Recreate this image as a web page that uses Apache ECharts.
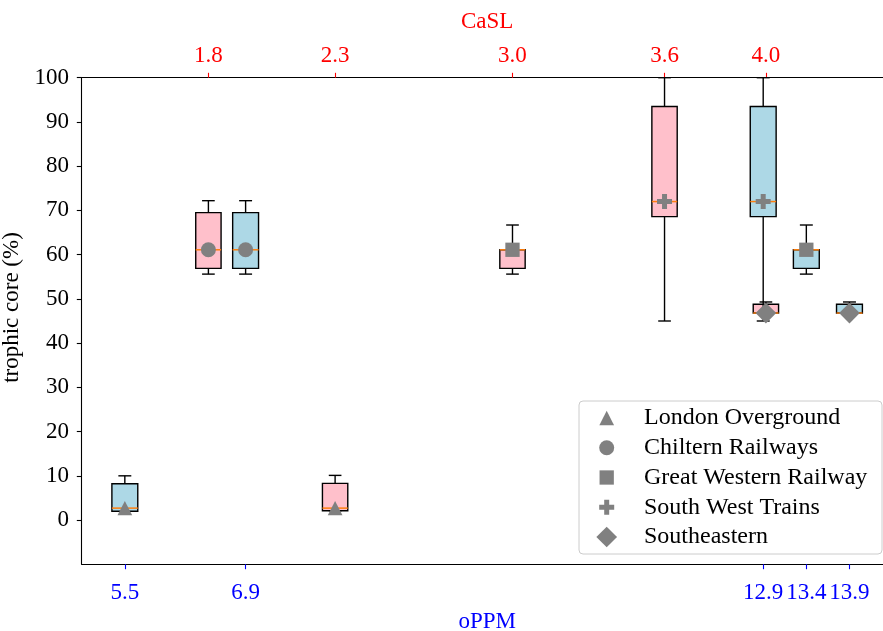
<!DOCTYPE html>
<html>
<head>
<meta charset="utf-8">
<script src="https://cdn.jsdelivr.net/npm/echarts/dist/echarts.min.js"></script>
<style>
html,body{margin:0;padding:0;background:#fff;}
#chart{width:883px;height:631px;}
</style>
</head>
<body>
<div id="chart"></div>
<script>
// ---- data ----
const operators = ['London Overground', 'Chiltern Railways', 'Great Western Railway', 'South West Trains', 'Southeastern'];

// CaSL (top axis, pink boxes)
const caslPositions = [1.8, 2.3, 3.0, 3.6, 4.0];
const caslOperator = ['Chiltern Railways', 'London Overground', 'Great Western Railway', 'South West Trains', 'Southeastern'];
const caslLow    = [55.6, 2.1, 55.6, 45.0, 46.8];
const caslQ1     = [56.9, 2.1, 56.9, 68.6, 46.8];
const caslMedian = [61.1, 2.7, 61.1, 72.0, 46.8];
const caslQ3     = [69.5, 8.3, 61.1, 93.5, 48.8];
const caslHigh   = [72.2, 10.1, 66.7, 100.0, 49.3];

// oPPM (bottom axis, blue boxes)
const oppmPositions = [5.5, 6.9, 12.9, 13.4, 13.9];
const oppmOperator = ['London Overground', 'Chiltern Railways', 'South West Trains', 'Great Western Railway', 'Southeastern'];
const oppmLow    = [2.0, 55.6, 45.0, 55.6, 46.8];
const oppmQ1     = [2.0, 56.9, 68.6, 56.9, 46.8];
const oppmMedian = [2.7, 61.1, 72.0, 61.1, 46.8];
const oppmQ3     = [8.2, 69.5, 93.5, 61.1, 48.8];
const oppmHigh   = [10.0, 72.2, 100.0, 66.7, 49.3];

const yTicks = [0, 10, 20, 30, 40, 50, 60, 70, 80, 90, 100];

// ---- styling ----
const FONT = 'Liberation Serif';
const PAD = 'M0,0M21,21';
const symbols = {
  'London Overground': 'path://' + PAD + 'M3.15,17.65L10.5,3.35L17.85,17.65Z',
  'Chiltern Railways': 'path://' + PAD + 'M18,10.5A7.5,7.5,0,1,1,3,10.5A7.5,7.5,0,1,1,18,10.5Z',
  'Great Western Railway': 'path://' + PAD + 'M3.35,3.35L17.65,3.35L17.65,17.65L3.35,17.65Z',
  'South West Trains': 'path://' + PAD + 'M8,3L13,3L13,8L18,8L18,13L13,13L13,18L8,18L8,13L3,13L3,8L8,8Z',
  'Southeastern': 'path://' + PAD + 'M10.5,0.15L20.85,10.5L10.5,20.85L0.15,10.5Z'
};

function boxRenderer(halfWidth, fill) {
  return function (params, api) {
    const x = api.value(0);
    const lo = api.coord([x, api.value(1)]);
    const yLo = lo[1], cx = lo[0];
    const yQ1 = api.coord([x, api.value(2)])[1];
    const yMd = api.coord([x, api.value(3)])[1];
    const yQ3 = api.coord([x, api.value(4)])[1];
    const yHi = api.coord([x, api.value(5)])[1];
    const xl = api.coord([x - halfWidth, 0])[0];
    const xr = api.coord([x + halfWidth, 0])[0];
    const cl = api.coord([x - halfWidth / 2, 0])[0];
    const cr = api.coord([x + halfWidth / 2, 0])[0];
    const st = { stroke: '#000', lineWidth: 1.4, fill: null };
    return {
      type: 'group',
      children: [
        { type: 'line', shape: { x1: cx, y1: yQ1, x2: cx, y2: yLo }, style: st },
        { type: 'line', shape: { x1: cx, y1: yQ3, x2: cx, y2: yHi }, style: st },
        { type: 'line', shape: { x1: cl, y1: yLo, x2: cr, y2: yLo }, style: st },
        { type: 'line', shape: { x1: cl, y1: yHi, x2: cr, y2: yHi }, style: st },
        { type: 'rect', shape: { x: xl, y: yQ3, width: xr - xl, height: yQ1 - yQ3 },
          style: { fill: fill, stroke: '#000', lineWidth: 1.4 } },
        { type: 'line', shape: { x1: xl, y1: yMd, x2: xr, y2: yMd },
          style: { stroke: '#ff7f0e', lineWidth: 1.5, fill: null } }
      ]
    };
  };
}

const caslRows = caslPositions.map((p, i) => [p, caslLow[i], caslQ1[i], caslMedian[i], caslQ3[i], caslHigh[i]]);
const oppmRows = oppmPositions.map((p, i) => [p, oppmLow[i], oppmQ1[i], oppmMedian[i], oppmQ3[i], oppmHigh[i]]);

const series = [
  { type: 'custom', name: 'CaSL boxes', xAxisIndex: 0, yAxisIndex: 0, data: caslRows,
    encode: { x: 0, y: [1, 2, 3, 4, 5] }, renderItem: boxRenderer(0.05, '#ffc0cb'), z: 2 },
  { type: 'custom', name: 'oPPM boxes', xAxisIndex: 1, yAxisIndex: 0, data: oppmRows,
    encode: { x: 0, y: [1, 2, 3, 4, 5] }, renderItem: boxRenderer(0.15, '#add8e6'), z: 2 }
];

operators.forEach(function (op) {
  const ic = caslOperator.indexOf(op);
  const io = oppmOperator.indexOf(op);
  series.push({ type: 'scatter', name: op, xAxisIndex: 0, yAxisIndex: 0,
    data: [[caslPositions[ic], caslMedian[ic]]], symbol: symbols[op], symbolSize: 21,
    itemStyle: { color: '#808080', opacity: 1 }, z: 5 });
  series.push({ type: 'scatter', name: op, xAxisIndex: 1, yAxisIndex: 0,
    data: [[oppmPositions[io], oppmMedian[io]]], symbol: symbols[op], symbolSize: 21,
    itemStyle: { color: '#808080', opacity: 1 }, z: 5 });
});

const chart = echarts.init(document.getElementById('chart'), null, { renderer: 'canvas' });
chart.setOption({
  animation: false,
  backgroundColor: '#ffffff',
  grid: { left: 81.7, top: 77.7, width: 810.9, height: 486.6, containLabel: false, outerBoundsMode: 'none' },
  xAxis: [
    { type: 'value', position: 'top', min: 1.3, max: 4.5,
      name: 'CaSL', nameLocation: 'middle', nameGap: 44,
      nameTextStyle: { color: '#ff0000', fontSize: 23, fontFamily: FONT },
      axisLine: { show: true, onZero: false, lineStyle: { color: '#000', width: 1.1 } },
      axisTick: { show: true, customValues: caslPositions, length: 4.9, lineStyle: { color: '#ff0000', width: 1.1 } },
      axisLabel: { show: true, customValues: caslPositions, formatter: v => Number(v).toFixed(1),
        color: '#ff0000', fontSize: 23, fontFamily: FONT, margin: 10 },
      splitLine: { show: false } },
    { type: 'value', position: 'bottom', min: 5.0, max: 14.4,
      name: 'oPPM', nameLocation: 'middle', nameGap: 46.5,
      nameTextStyle: { color: '#0000ff', fontSize: 23, fontFamily: FONT },
      axisLine: { show: true, onZero: false, lineStyle: { color: '#000', width: 1.1 } },
      axisTick: { show: true, customValues: oppmPositions, length: 4.9, lineStyle: { color: '#0000ff', width: 1.1 } },
      axisLabel: { show: true, customValues: oppmPositions, formatter: v => Number(v).toFixed(1),
        color: '#0000ff', fontSize: 23, fontFamily: FONT, margin: 17 },
      splitLine: { show: false } }
  ],
  yAxis: [
    { type: 'value', position: 'left', min: -10, max: 100,
      name: 'trophic core (%)', nameLocation: 'middle', nameGap: 49,
      nameTextStyle: { color: '#000', fontSize: 23, fontFamily: FONT, padding: [0, 0, 0, 27] },
      axisLine: { show: true, onZero: false, lineStyle: { color: '#000', width: 1.1 } },
      axisTick: { show: true, customValues: yTicks, length: 4.9, lineStyle: { color: '#000', width: 1.1 } },
      axisLabel: { show: true, customValues: yTicks, color: '#000', fontSize: 23, fontFamily: FONT, margin: 12.7 },
      splitLine: { show: false } }
  ],
  legend: {
    orient: 'vertical', left: 579, top: 401,
    padding: [5, 14.7, 5, 17.2],
    itemWidth: 21, itemHeight: 24, itemGap: 5.75,
    symbolKeepAspect: true,
    backgroundColor: 'rgba(255,255,255,0.8)', borderColor: '#cccccc', borderWidth: 1, borderRadius: 4,
    textStyle: { fontSize: 24, lineHeight: 24, fontFamily: FONT, color: '#000', padding: [0, 0, 0, 21.8] },
    data: operators.map(op => ({ name: op, icon: symbols[op], itemStyle: { color: '#808080' } }))
  },
  series: series
});
</script>
</body>
</html>
